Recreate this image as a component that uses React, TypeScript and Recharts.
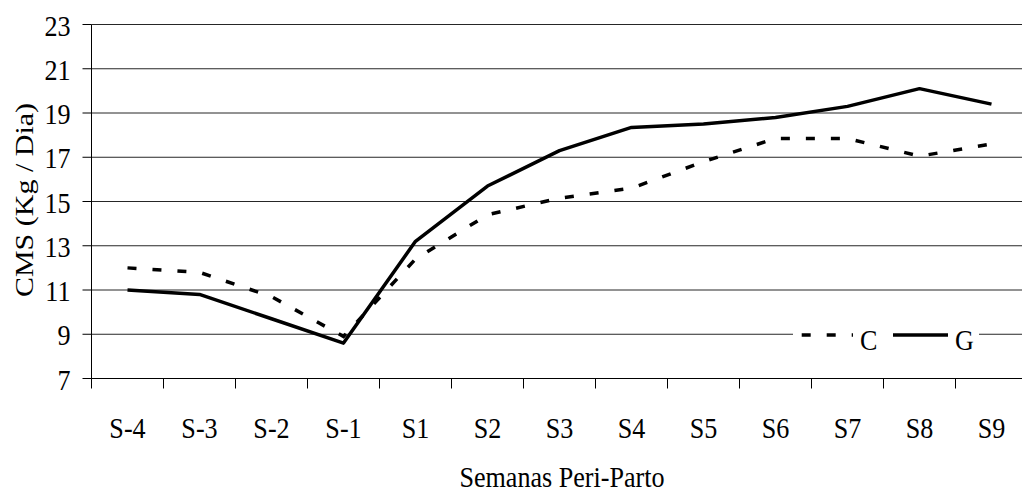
import React from 'react';
import { LineChart, Line, XAxis, YAxis, CartesianGrid, Legend, Label } from 'recharts';

// semanas peri-parto
const weeks = ['S-4', 'S-3', 'S-2', 'S-1', 'S1', 'S2', 'S3', 'S4', 'S5', 'S6', 'S7', 'S8', 'S9'];
// CMS, kg / dia
const seriesC = [12.0, 11.8, 10.7, 8.9, 12.4, 14.4, 15.15, 15.6, 16.8, 17.85, 17.85, 17.05, 17.6];
const seriesG = [11.0, 10.8, 9.7, 8.6, 13.2, 15.7, 17.3, 18.35, 18.5, 18.8, 19.3, 20.1, 19.4];
const yTicks = [7, 9, 11, 13, 15, 17, 19, 21, 23];

const data = weeks.map((w, i) => ({ week: w, C: seriesC[i], G: seriesG[i] }));

const FONT = '"Liberation Serif", "Times New Roman", serif';
const STEP = 72; // width of one category
const SQUEEZE = 'scale(0.87,1)';

const dashC = '9 16';

const XTick = (props: any) => {
  const { x, y, payload, index } = props;
  const half = STEP / 2;
  const axisY = y - 10;
  return (
    <g>
      <line x1={x - half} x2={x - half} y1={axisY} y2={axisY + 10} stroke="#000" />
      {index === weeks.length - 1 && (
        <line x1={x + half} x2={x + half} y1={axisY} y2={axisY + 10} stroke="#000" />
      )}
      <text
        transform={`translate(${x},${axisY + 59.5}) ${SQUEEZE}`}
        textAnchor="middle"
        fontFamily={FONT}
        fontSize={30}
        fill="#000"
      >
        {payload.value}
      </text>
    </g>
  );
};

const YTick = (props: any) => {
  const { x, y, payload } = props;
  return (
    <text
      transform={`translate(${x},${y + 11}) ${SQUEEZE}`}
      textAnchor="end"
      fontFamily={FONT}
      fontSize={30}
      fill="#000"
    >
      {payload.value}
    </text>
  );
};

const renderLegend = (props: any) => {
  const { payload } = props;
  const items = payload || [];
  return (
    <svg width={186} height={44} style={{ display: 'block', overflow: 'visible' }}>
      <rect x={0} y={0} width={186} height={30} fill="#fff" />
      {items.map((entry: any, i: number) => {
        const x0 = i === 0 ? 8.7 : 100;
        const len = i === 0 ? 51.3 : 55;
        const isDashed = entry.value === 'C';
        return (
          <g key={entry.value}>
            <line
              x1={x0}
              x2={x0 + len}
              y1={15}
              y2={15}
              stroke="#000"
              strokeWidth={3.5}
              strokeDasharray={isDashed ? dashC : undefined}
            />
            <text
              transform={`translate(${x0 + len + 7},30) ${SQUEEZE}`}
              fontFamily={FONT}
              fontSize={30}
              fill="#000"
            >
              {entry.value}
            </text>
          </g>
        );
      })}
    </svg>
  );
};

export default function App() {
  return (
    <div style={{ position: 'absolute', left: 0, top: 0, width: 1022, height: 495, overflow: 'hidden', background: '#fff' }}>
      <LineChart width={1040} height={495} data={data} margin={{ top: 24.5, right: 12.5, bottom: 0, left: 0 }}>
        <CartesianGrid vertical={false} stroke="#000" strokeOpacity={0.85} />
        <XAxis
          dataKey="week"
          interval={0}
          height={116.5}
          padding={{ left: STEP / 2, right: STEP / 2 }}
          tickSize={10}
          tickMargin={0}
          tickLine={false}
          axisLine={{ stroke: '#000' }}
          tick={<XTick />}
        >
          <Label
            content={() => (
              <text
                transform={`translate(562,487) ${SQUEEZE}`}
                textAnchor="middle"
                fontFamily={FONT}
                fontSize={30}
                fill="#000"
              >
                Semanas Peri-Parto
              </text>
            )}
          />
        </XAxis>
        <YAxis
          width={91.5}
          domain={[7, 23]}
          ticks={yTicks}
          interval={0}
          tickSize={9}
          tickMargin={12}
          axisLine={{ stroke: '#000' }}
          tickLine={{ stroke: '#000' }}
          tick={<YTick />}
        >
          <Label
            content={() => (
              <text
                transform={`translate(33,200) ${SQUEEZE} rotate(-90)`}
                textAnchor="middle"
                fontFamily={FONT}
                fontSize={30}
                fill="#000"
              >
                CMS (Kg / Dia)
              </text>
            )}
          />
        </YAxis>
        <Legend
          layout="horizontal"
          verticalAlign="middle"
          align="center"
          wrapperStyle={{ position: 'absolute', left: 793, top: 320, width: 186, height: 44 }}
          content={renderLegend}
        />
        <Line
          type="linear"
          dataKey="C"
          name="C"
          stroke="#000"
          strokeWidth={3.5}
          strokeDasharray={dashC}
          dot={false}
          activeDot={false}
          isAnimationActive={false}
        />
        <Line
          type="linear"
          dataKey="G"
          name="G"
          stroke="#000"
          strokeWidth={3.5}
          strokeLinejoin="round"
          dot={false}
          activeDot={false}
          isAnimationActive={false}
        />
      </LineChart>
    </div>
  );
}
